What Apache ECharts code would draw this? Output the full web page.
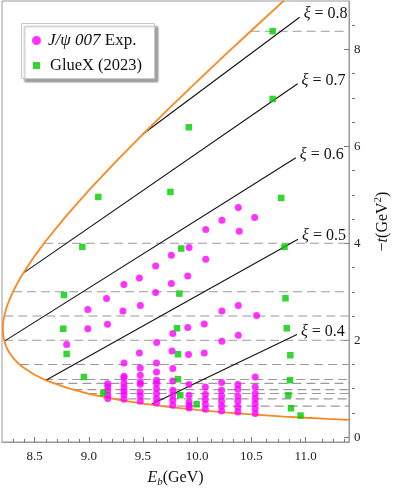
<!DOCTYPE html>
<html><head><meta charset="utf-8">
<script src="https://cdn.jsdelivr.net/npm/echarts@6/dist/echarts.min.js"></script>
<style>html,body{margin:0;padding:0;background:#fff}#c{width:399px;height:493px}</style>
</head><body><div id="c"></div>
<script>
// kinematic boundary, drawing order: upper branch down to tip, then lower branch
const curveE = [10.8,10.5,10.25,10.0,9.75,9.5,9.25,9.0,8.8,8.6,8.5,8.4,8.35,8.3,8.27,8.25,8.235,8.22,8.214,8.21,8.209,8.2078,8.209,8.21,8.214,8.22,8.235,8.25,8.27,8.3,8.35,8.4,8.5,8.6,8.8,9.0,9.25,9.5,9.75,10.0,10.25,10.5,10.8,11.0,11.2,11.4];
const curveT = [9.008,8.391,7.871,7.342,6.805,6.254,5.685,5.091,4.587,4.038,3.736,3.400,3.211,2.995,2.844,2.726,2.622,2.486,2.410,2.337,2.308,2.230,2.154,2.128,2.062,1.998,1.891,1.815,1.736,1.643,1.524,1.431,1.288,1.178,1.015,0.895,0.781,0.692,0.621,0.561,0.511,0.469,0.425,0.400,0.377,0.356];
// xi = const lines
const xiNames = ['0.8','0.7','0.6','0.5','0.4'];
const xiStartE = [9.497,8.396,8.2223,8.605,9.57];
const xiStartT = [6.250,3.384,1.981,1.174,0.671];
const xiEndE = [10.945,10.926,10.91,10.93,10.92];
const xiEndT = [8.666,7.294,5.764,4.083,2.119];
// horizontal dashed lines
const dashT = [8.376,4.0,3.0,2.5,2.0,1.5,1.19,1.11,0.98,0.90,0.79,0.64];
const dashE0 = [10.493,8.587,8.301,8.2215,8.2198,8.367,8.589,8.683,8.858,8.992,9.230,9.682];
// J/psi 007 points
const j007E = [9.925,9.762,9.617,9.467,9.324,9.913,9.762,9.617,9.164,9.476,8.991,9.315,9.173,8.991,9.913,10.379,10.228,10.530,10.079,10.388,10.079,10.379,10.228,10.548,10.065,8.796,9.775,10.379,10.228,10.065,9.626,9.768,9.920,9.467,
 9.175,9.175,9.175,9.175,9.175,
 9.325,9.325,9.325,9.325,9.325,9.325,9.325,9.325,
 9.475,9.475,9.475,9.475,9.475,9.475,9.475,
 9.625,9.625,9.625,9.625,9.625,9.625,9.625,9.625,
 9.775,9.775,9.775,9.775,9.775,9.775,
 9.925,9.925,9.925,9.925,9.925,
 10.075,10.075,10.075,10.075,10.075,
 10.225,10.225,10.225,10.225,10.225,10.225,
 10.375,10.375,10.375,10.375,10.375,10.375,
 10.535,10.535,10.535,10.535,10.535,10.535,10.535];
const j007T = [3.912,3.754,3.533,3.285,3.149,3.326,3.170,2.984,2.860,2.716,2.633,2.604,2.330,2.237,2.262,4.738,4.476,4.532,4.284,4.249,3.671,2.716,2.604,2.509,2.336,1.911,2.138,2.103,1.979,1.738,1.952,1.779,1.705,1.738,
 1.10,1.04,0.96,0.87,0.80,
 1.531,1.257,1.222,1.106,1.024,0.947,0.879,0.782,
 1.428,1.277,1.139,1.092,0.933,0.850,0.741,
 1.531,1.345,1.174,1.106,1.003,0.900,0.797,0.706,
 1.416,1.160,0.968,0.865,0.761,0.658,
 1.085,0.865,0.727,0.658,0.603,
 1.036,0.885,0.782,0.679,0.576,
 1.127,0.968,0.850,0.747,0.644,0.541,
 1.085,0.988,0.850,0.741,0.623,0.520,
 1.242,1.036,0.900,0.797,0.693,0.590,0.487];
// GlueX (2023) points
const gluexE = [10.696,10.696,9.923,9.088,9.753,10.775,8.941,9.853,10.805,8.771,9.835,10.814,8.765,9.814,10.826,8.796,9.823,10.859,8.955,9.823,10.856,9.134,9.844,10.841,9.995,10.865,10.953];
const gluexT = [8.376,6.979,6.395,4.957,5.060,4.936,3.925,3.892,3.925,2.934,2.963,2.866,2.237,2.247,2.247,1.717,1.711,1.690,1.242,1.195,1.174,0.916,0.865,0.865,0.679,0.596,0.446];
// axes
const xMajor = [8.5,9.0,9.5,10.0,10.5,11.0];
const xMinor = [8.3,8.4,8.6,8.7,8.8,8.9,9.1,9.2,9.3,9.4,9.6,9.7,9.8,9.9,10.1,10.2,10.3,10.4,10.6,10.7,10.8,10.9,11.1,11.2,11.3];
const yMajor = [0,2,4,6,8];
const yMinor = [0.5,1,1.5,2.5,3,3.5,4.5,5,5.5,6.5,7,7.5,8.5];

const FF = "'Liberation Serif','DejaVu Serif',serif";
const chart = echarts.init(document.getElementById('c'), null, {renderer:'canvas'});
const zip = (a,b) => a.map((v,i)=>[v,b[i]]);
const series = [];
series.push({type:'line', name:'bound', data: zip(curveE, curveT), showSymbol:false, symbol:'none',
  lineStyle:{color:'#fa8820', width:1.8}, z:3, silent:true});
dashT.forEach((t,i)=>{
  series.push({type:'line', data:[[dashE0[i],t],[11.4,t]], symbol:'none',
    lineStyle:{color:'#9a9a9a', width:1.1, type:[9,5]}, z:1, silent:true});
});
xiNames.forEach((n,i)=>{
  series.push({type:'line', data:[[xiStartE[i],xiStartT[i]],[xiEndE[i],xiEndT[i]]],
    symbol:'none', lineStyle:{color:'#111', width:1.1}, z:2, silent:true,
    endLabel:{show:true, distance:2, offset:[2,-3], formatter:'{i|ξ} = '+n,
      fontFamily:FF, fontSize:16, color:'#111',
      rich:{i:{fontStyle:'italic', fontFamily:FF, fontSize:16, color:'#111'}}}});
});
series.push({type:'scatter', name:'J/ψ 007 Exp.', data: zip(j007E, j007T), symbol:'circle', symbolSize:7,
  itemStyle:{color:'#ff00ff'}, z:5});
series.push({type:'scatter', name:'GlueX (2023)', data: zip(gluexE, gluexT), symbol:'rect', symbolSize:6.5,
  itemStyle:{color:'#00cc00'}, z:6});

const axisColor = '#999';
const option = {
  animation:false,
  backgroundColor:'#fff',
  grid:[{left:2, right:44, top:1, bottom:51, show:true, borderColor:axisColor, borderWidth:1, backgroundColor:'transparent'},
        {left:2, right:44, top:1, bottom:51, show:false}],
  xAxis:[{type:'value', gridIndex:0, min:8.2, max:11.4, position:'bottom',
    axisLine:{show:true, onZero:false, lineStyle:{color:axisColor, width:1}},
    axisTick:{show:true, inside:true, length:5, customValues:xMajor, lineStyle:{color:'#777'}},
    axisLabel:{show:true, customValues:xMajor, formatter:v=>v.toFixed(1), margin:8, color:'#222', fontFamily:FF, fontSize:13},
    splitLine:{show:false},
    name:'{i|E}{s|b}{n|(GeV)}', nameLocation:'middle', nameGap:26,
    nameTextStyle:{color:'#111', fontFamily:FF, fontSize:16,
      rich:{i:{fontStyle:'italic', fontFamily:FF, fontSize:16, color:'#111', lineHeight:20},
            s:{fontStyle:'italic', fontFamily:FF, fontSize:11, color:'#111', verticalAlign:'bottom', lineHeight:12},
            n:{fontFamily:FF, fontSize:16, color:'#111', lineHeight:20}}}},
   {type:'value', gridIndex:1, min:8.2, max:11.4, position:'bottom',
    axisLine:{show:false, onZero:false}, axisTick:{show:true, inside:true, length:3, customValues:xMinor, lineStyle:{color:'#777'}},
    axisLabel:{show:false}, splitLine:{show:false}}],
  yAxis:[{type:'value', gridIndex:0, min:-0.1, max:9, position:'right',
    axisLine:{show:true, onZero:false, lineStyle:{color:axisColor, width:1}},
    axisTick:{show:true, inside:true, length:5, customValues:yMajor, lineStyle:{color:'#777'}},
    axisLabel:{show:true, customValues:yMajor, margin:5, color:'#222', fontFamily:FF, fontSize:13},
    splitLine:{show:false},
    name:'{n|−}{i|t}{n|(GeV}{p|2}{n|)}', nameLocation:'middle', nameRotate:90, nameGap:24,
    nameTextStyle:{color:'#111', fontFamily:FF, fontSize:16,
      rich:{i:{fontStyle:'italic', fontFamily:FF, fontSize:16, color:'#111', lineHeight:20},
            p:{fontFamily:FF, fontSize:11, color:'#111', verticalAlign:'top', lineHeight:12},
            n:{fontFamily:FF, fontSize:16, color:'#111', lineHeight:20}}}},
   {type:'value', gridIndex:1, min:-0.1, max:9, position:'right',
    axisLine:{show:false, onZero:false}, axisTick:{show:true, inside:true, length:3, customValues:yMinor, lineStyle:{color:'#777'}},
    axisLabel:{show:false}, splitLine:{show:false}}],
  graphic:[{type:'rect', left:21, top:23, shape:{width:133, height:55}, z:10,
    style:{fill:'#fff', stroke:'#c8c8c8', lineWidth:1, shadowColor:'rgba(0,0,0,0.35)', shadowBlur:2, shadowOffsetX:3, shadowOffsetY:3}}],
  legend:[{data:[{name:'J/ψ 007 Exp.', icon:'circle'}], left:32, top:32, padding:0, itemWidth:9, itemHeight:9, z:20,
      selectedMode:false, formatter:()=>'{g|}{i|J/ψ 007}{n| Exp.}',
      textStyle:{fontFamily:FF, fontSize:16, color:'#111',
        rich:{g:{width:2}, i:{fontStyle:'italic', fontFamily:FF, fontSize:17, color:'#111'}, n:{fontFamily:FF, fontSize:17, color:'#111'}}}},
    {data:[{name:'GlueX (2023)', icon:'rect'}], left:33, top:57, padding:0, itemWidth:7, itemHeight:7, z:20,
      selectedMode:false, formatter:()=>'{g|}{n|GlueX (2023)}',
      textStyle:{fontFamily:FF, fontSize:16, color:'#111', rich:{g:{width:5}, n:{fontFamily:FF, fontSize:16.5, color:'#111'}}}}],
  series: series
};
chart.setOption(option);
</script></body></html>
